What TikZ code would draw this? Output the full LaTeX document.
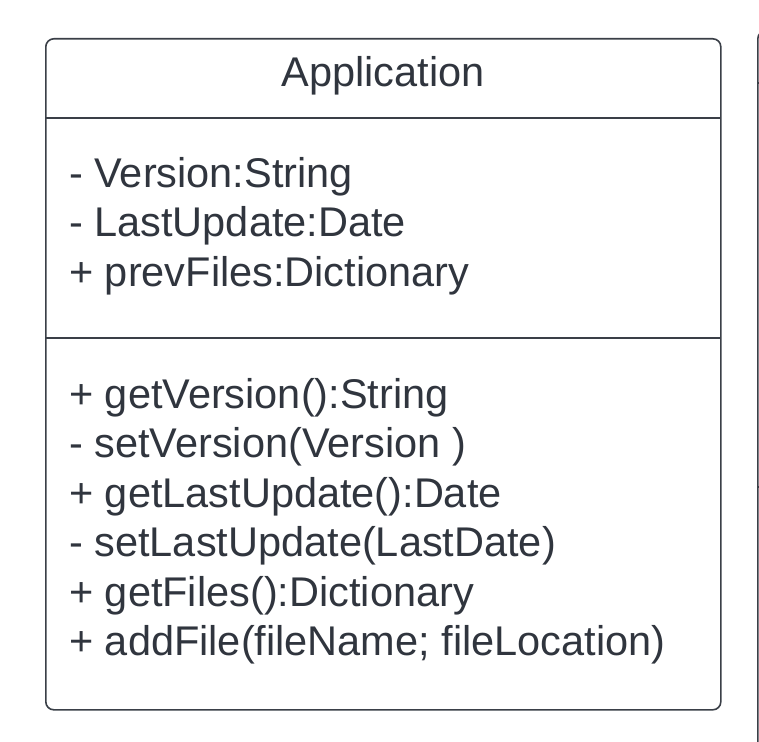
\documentclass[tikz,border=0pt]{standalone}
\usepackage{fontspec}
\setmainfont{Liberation Sans}
\usetikzlibrary{positioning}
\definecolor{rahmen}{HTML}{3A3F47}
\definecolor{schrift}{HTML}{30353E}

\begin{document}
\begin{tikzpicture}[x=1pt, y=-1pt,
        feld/.style={anchor=base west, inner sep=0pt, text=schrift,
                     font=\fontsize{41.5}{50}\selectfont},
        linie/.style={line width=1.6pt, draw=rahmen}
      ]
      \clip (0,0) rectangle (759,741);
      \fill[white] (0,0) rectangle (759,741);
      % class box
      \node[linie, rounded corners=8pt, minimum width=675pt, minimum height=671pt,
            inner sep=0pt, anchor=north west] (app) at (45,38) {};
      \coordinate (kopfL) at (45,118);  \coordinate (kopfR) at (720,118);
      \coordinate (attrL) at (45,338);  \coordinate (attrR) at (720,338);
      \draw[linie] (kopfL) -- (kopfR);
      \draw[linie] (attrL) -- (attrR);
      \node[feld, anchor=base] (titel) at (383,87) {Application};
      % attributes
      \node[feld] (a1) at (69,187) {- Version:String};
      \node[feld] (a2) at (69,236) {- LastUpdate:Date};
      \node[feld] (a3) at (69,286) {+ prevFiles:Dictionary};
      % methods
      \node[feld] (m1) at (69,408) {+ getVersion():String};
      \node[feld] (m2) at (69,457) {- setVersion(Version )};
      \node[feld] (m3) at (69,507) {+ getLastUpdate():Date};
      \node[feld] (m4) at (69,556) {- setLastUpdate(LastDate)};
      \node[feld] (m5) at (69,606) {+ getFiles():Dictionary};
      \node[feld] (m6) at (69,655) {+ addFile(fileName; fileLocation)};
      % next box, cut off at the edge
      \node[linie, rounded corners=8pt, minimum width=300pt, minimum height=800pt,
            inner sep=0pt, anchor=north west] (nachbar) at (757,30) {};
      \coordinate (n1L) at (757,83);  \coordinate (n1R) at (770,83);
      \coordinate (n2L) at (757,487); \coordinate (n2R) at (770,487);
      \draw[linie] (n1L) -- (n1R);
      \draw[linie] (n2L) -- (n2R);
    \end{tikzpicture}
\end{document}
